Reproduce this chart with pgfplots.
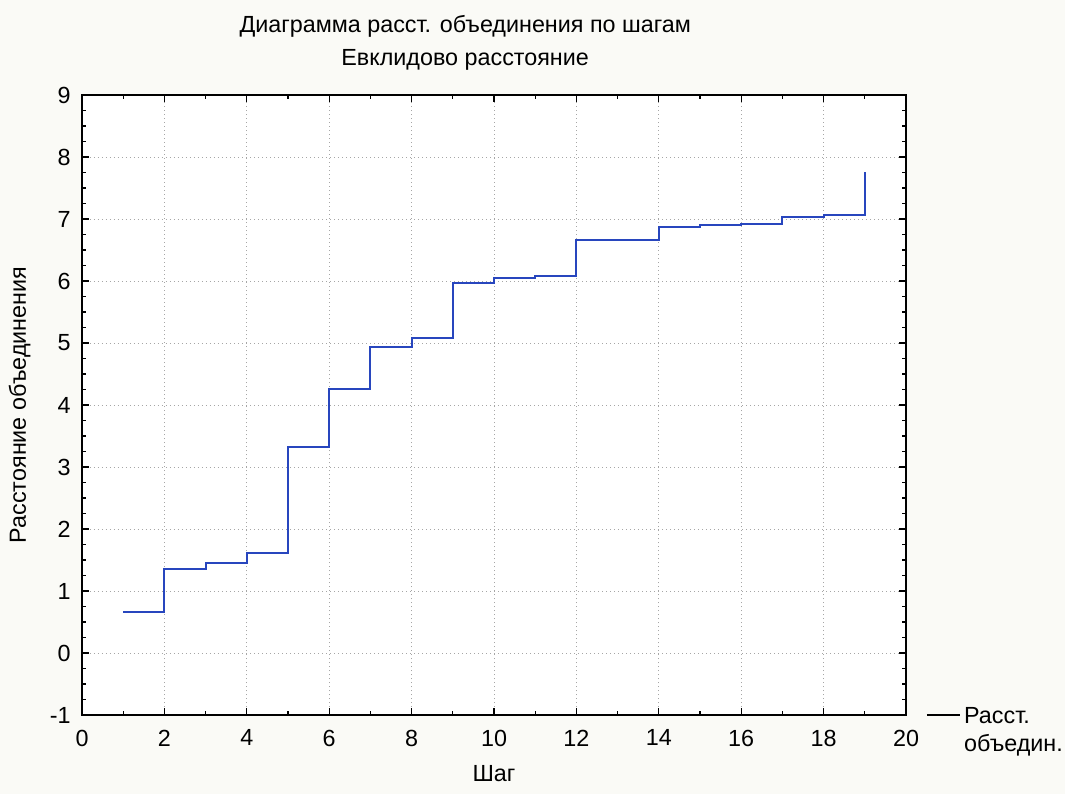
\documentclass[border=0pt]{standalone}
\usepackage{fontspec}
\setmainfont{Liberation Sans}
\usepackage{pgfplots}
\pgfplotsset{compat=1.18}
\definecolor{bgc}{RGB}{250,250,246}
\definecolor{lineblue}{RGB}{40,70,190}
\begin{document}
\fontsize{14pt}{17pt}\selectfont
\begin{tikzpicture}
\path[use as bounding box, fill=bgc] (-49.2pt,-47.4pt) rectangle (589.8pt,429pt);
\begin{axis}[
  at={(0pt,0pt)}, anchor=south west,
  scale only axis, width=494.4pt, height=372pt,
  xmin=0, xmax=20, ymin=-1, ymax=9,
  xtick={0,2,...,20}, ytick={-1,0,...,9},
  minor x tick num=1, minor y tick num=3,
  tick align=inside, tick pos=both,
  major tick length=4pt, minor tick length=2.5pt,
  every tick/.style={black, line width=0.8pt},
  axis line style={black, line width=0.9pt},
  axis background/.style={fill=white},
  grid=major,
  major grid style={dotted, gray!70, line width=0.6pt},
  /pgf/number format/assume math mode=true,
  ticklabel style={font=\fontsize{14pt}{17pt}\selectfont},
  xticklabel style={yshift=-4pt},
  yticklabel style={xshift=-2pt},
  xlabel={Шаг}, ylabel={Расстояние объединения},
  xlabel style={yshift=-2pt},
  ylabel style={yshift=2pt},
  title={Диаграмма расст. объединения по шагам\\Евклидово расстояние},
  title style={align=center, at={(0.465,1)}, anchor=south, yshift=4pt, font=\fontsize{14pt}{20pt}\selectfont},
  legend style={at={(1.018,0.03)}, anchor=north west, draw=none, fill=none,
    font=\fontsize{14pt}{17pt}\selectfont},
  legend cell align=left,
]
\addplot[const plot, color=lineblue, line width=1.2pt,
  legend image code/.code={\draw[black, line width=0.8pt] (0pt,0pt) -- (20pt,0pt);}]
  coordinates {
(1,0.66) (2,1.35) (3,1.45) (4,1.61) (5,3.32) (6,4.26) (7,4.94) (8,5.08)
(9,5.96) (10,6.05) (11,6.08) (12,6.66) (13,6.66) (14,6.87) (15,6.90)
(16,6.92) (17,7.04) (18,7.06) (19,7.76)
};
\addlegendentry{\begin{tabular}[t]{@{}l@{}}Расст.\\объедин.\end{tabular}}
\end{axis}
\end{tikzpicture}
\end{document}
